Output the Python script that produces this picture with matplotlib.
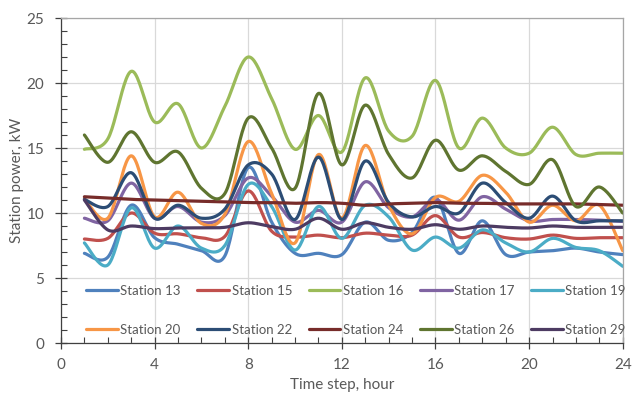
import numpy as np
import matplotlib
matplotlib.use("Agg")
import matplotlib.pyplot as plt
from matplotlib.ticker import MultipleLocator

hours = list(range(1, 25))

names = ["Station 13", "Station 15", "Station 16", "Station 17", "Station 19",
         "Station 20", "Station 22", "Station 24", "Station 26", "Station 29"]

s13 = [6.9, 6.6, 10.6, 8.1, 7.6, 7.1, 6.7, 13.5, 9.3, 6.9, 6.9, 6.8,
       9.3, 7.9, 8.5, 11.2, 6.9, 9.4, 6.8, 7.0, 7.1, 7.3, 7.0, 6.8]
s15 = [8.0, 8.05, 10.0, 8.45, 8.4, 8.1, 8.2, 11.7, 8.6, 8.15, 8.3, 8.1,
       8.45, 8.3, 8.3, 9.8, 8.15, 8.5, 8.1, 8.0, 8.3, 8.05, 8.1, 8.1]
s16 = [14.9, 15.7, 20.9, 17.0, 18.4, 15.0, 18.2, 22.0, 18.8, 14.9, 17.5, 14.7,
       20.4, 16.3, 15.9, 20.2, 15.0, 17.3, 15.0, 14.6, 16.6, 14.5, 14.6, 14.6]
s17 = [9.6, 9.4, 12.3, 9.6, 10.5, 9.3, 9.8, 12.7, 11.3, 9.3, 10.2, 9.3,
       12.4, 10.4, 9.7, 11.05, 9.45, 11.25, 10.3, 9.4, 9.5, 9.5, 9.45, 9.35]
s19 = [7.7, 6.0, 10.4, 7.3, 9.0, 7.3, 7.5, 12.2, 10.5, 7.15, 10.5, 8.05,
       10.6, 9.7, 7.15, 8.15, 7.3, 8.7, 7.7, 7.0, 8.05, 7.35, 7.1, 5.9]
s20 = [11.1, 9.6, 14.4, 9.7, 11.6, 9.2, 9.9, 15.5, 11.5, 7.7, 14.5, 9.6,
       15.2, 10.6, 8.4, 11.2, 10.9, 12.9, 11.6, 9.3, 10.6, 9.4, 10.6, 7.1]
s22 = [11.05, 10.5, 13.1, 9.6, 10.6, 9.6, 10.3, 13.7, 13.0, 9.5, 14.3, 9.5,
       14.0, 10.8, 9.7, 10.5, 10.0, 12.3, 10.8, 9.6, 11.3, 9.4, 9.4, 9.4]
s24 = [11.25, 11.15, 11.05, 11.0, 10.95, 10.9, 10.85, 10.8, 10.8, 10.75, 10.8, 10.75,
       10.6, 10.7, 10.75, 10.8, 10.75, 10.75, 10.7, 10.7, 10.7, 10.7, 10.65, 10.6]
s26 = [16.0, 13.9, 16.25, 13.9, 14.7, 11.9, 11.5, 17.3, 15.0, 11.9, 19.2, 13.7,
       18.3, 14.5, 12.7, 15.6, 13.3, 14.4, 13.2, 12.2, 14.1, 10.5, 12.0, 10.0]
s29 = [11.0, 8.7, 9.0, 8.8, 8.85, 8.85, 8.9, 9.25, 8.95, 8.75, 9.6, 8.75,
       9.25, 8.9, 8.75, 9.1, 8.75, 9.0, 8.9, 8.85, 9.0, 8.9, 8.9, 8.9]

series = [s13, s15, s16, s17, s19, s20, s22, s24, s26, s29]
colors = ["#4F81BD", "#C0504D", "#9BBB59", "#8064A2", "#4BACC6",
          "#F79646", "#2C4D75", "#772C2A", "#5F7530", "#4D3B62"]


def smooth(x, y, n=24):
    # excel-style smoothed line (catmull-rom bezier)
    x = np.asarray(x, float)
    y = np.asarray(y, float)
    px = np.concatenate([[x[0]], x, [x[-1]]])
    py = np.concatenate([[y[0]], y, [y[-1]]])
    t = np.linspace(0, 1, n)
    xs, ys = [], []
    for i in range(1, len(px) - 2):
        p0 = np.array([px[i], py[i]])
        p3 = np.array([px[i + 1], py[i + 1]])
        c1 = p0 + (np.array([px[i + 1], py[i + 1]]) - np.array([px[i - 1], py[i - 1]])) / 6
        c2 = p3 - (np.array([px[i + 2], py[i + 2]]) - np.array([px[i], py[i]])) / 6
        b = ((1 - t) ** 3)[:, None] * p0 + (3 * (1 - t) ** 2 * t)[:, None] * c1 \
            + (3 * (1 - t) * t ** 2)[:, None] * c2 + (t ** 3)[:, None] * p3
        xs.extend(b[:, 0])
        ys.extend(b[:, 1])
    return xs, ys


plt.rcParams['font.family'] = ['Lato', 'DejaVu Sans']
grey = "#595959"

fig = plt.figure(figsize=(6.42, 3.94), dpi=100)
ax = fig.add_axes([0.095, 0.1294, 0.875, 0.8249])

lines = []
for name, vals, col in zip(names, series, colors):
    xs, ys = smooth(hours, vals)
    ln, = ax.plot(xs, ys, color=col, lw=2.3, label=name, solid_capstyle='round')
    lines.append(ln)

ax.set_xlim(0, 24)
ax.set_ylim(0, 25)
ax.xaxis.set_major_locator(MultipleLocator(4))
ax.xaxis.set_minor_locator(MultipleLocator(1))
ax.yaxis.set_major_locator(MultipleLocator(5))
ax.yaxis.set_minor_locator(MultipleLocator(1))
ax.grid(True, which='major', color='#D9D9D9', lw=0.9)
ax.set_axisbelow(True)

ax.tick_params(axis='x', which='major', direction='inout', length=8, width=0.9,
               color='#404040', labelsize=11, labelcolor=grey, pad=7)
ax.tick_params(axis='y', which='major', direction='inout', length=8, width=0.9,
               color='#404040', labelsize=11, labelcolor=grey, pad=8)
ax.tick_params(which='minor', direction='in', length=4, width=0.8, color='#404040')

for s in ['left', 'bottom']:
    ax.spines[s].set_color('#404040')
    ax.spines[s].set_linewidth(0.9)
for s in ['top', 'right']:
    ax.spines[s].set_color('#A6A6A6')
    ax.spines[s].set_linewidth(0.9)

ax.set_xlabel("Time step, hour", fontsize=11, color=grey, labelpad=4)
ax.set_ylabel("Station power, kW", fontsize=11, color=grey, labelpad=2)

order = [0, 5, 1, 6, 2, 7, 3, 8, 4, 9]
ax.legend([lines[i] for i in order], [names[i] for i in order], ncol=5,
          loc='lower center', bbox_to_anchor=(0.525, -0.015), frameon=False,
          fontsize=9.5, handlelength=2.4, handletextpad=0.2, columnspacing=1.25,
          labelspacing=2.05, labelcolor=grey)

fig.savefig("out.png", dpi=100)
